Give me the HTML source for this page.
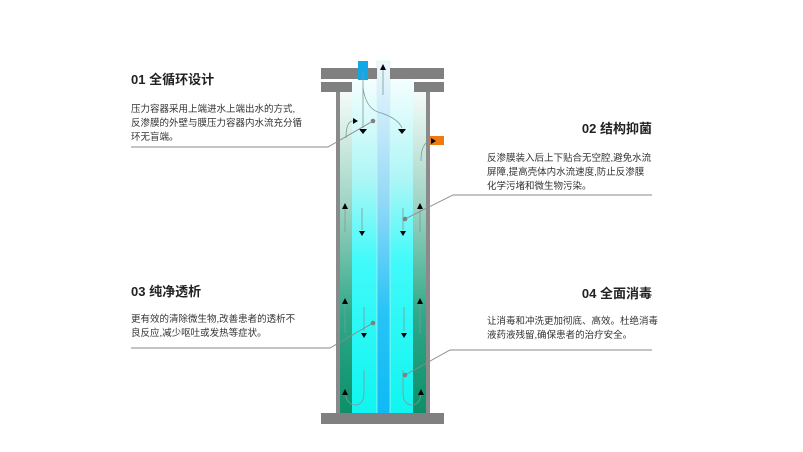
<!DOCTYPE html>
<html><head><meta charset="utf-8"><style>
html,body{margin:0;padding:0;background:#fff;}
svg{display:block;}
text{font-family:"Liberation Sans","Noto Sans CJK SC",sans-serif;}
.t{font-size:13px;font-weight:bold;fill:#222;}
.b{font-size:9.5px;fill:#333;}
</style></head><body>
<svg width="803" height="452" viewBox="0 0 803 452" xmlns="http://www.w3.org/2000/svg">
<defs>
<linearGradient id="ann" x1="0" y1="0" x2="0" y2="1">
<stop offset="0" stop-color="#f4fbf8"/><stop offset="0.35" stop-color="#9fd4c4"/><stop offset="0.7" stop-color="#2fa888"/><stop offset="1" stop-color="#0c8f6a"/></linearGradient>
<linearGradient id="inn" x1="0" y1="0" x2="0" y2="1">
<stop offset="0" stop-color="#f6fefe"/><stop offset="0.3" stop-color="#aef6f6"/><stop offset="0.55" stop-color="#40fafa"/><stop offset="1" stop-color="#10f5f0"/></linearGradient>
<linearGradient id="tub" x1="0" y1="0" x2="0" y2="1">
<stop offset="0" stop-color="#eef8fc"/><stop offset="0.4" stop-color="#90d8f6"/><stop offset="0.7" stop-color="#28c4f6"/><stop offset="1" stop-color="#10b8f4"/></linearGradient>
</defs>
<!-- vessel -->
<rect x="339" y="92" width="88" height="321" fill="url(#ann)"/>
<rect x="352" y="78" width="61" height="335" fill="url(#inn)"/>
<rect x="377" y="61" width="13" height="357" fill="url(#tub)" stroke="#d8eef6" stroke-width="0.6"/>
<rect x="336" y="92" width="4" height="321" fill="#8a8a8a"/>
<rect x="426" y="92" width="4" height="321" fill="#8a8a8a"/>
<rect x="321" y="68" width="56" height="11" fill="#808080"/>
<rect x="390" y="68" width="54" height="11" fill="#808080"/>
<rect x="321" y="82" width="31" height="10" fill="#808080"/>
<rect x="414" y="82" width="30" height="10" fill="#808080"/>
<rect x="321" y="413" width="123" height="11" fill="#808080"/>
<rect x="358" y="61" width="10" height="19" fill="#12a8e8"/>
<rect x="430" y="136" width="14" height="9" fill="#f07a10"/>
<!-- flow lines -->
<g stroke="#7a9a9a" stroke-width="0.8" fill="none">
<line x1="363" y1="72" x2="363" y2="128"/>
<line x1="383" y1="70" x2="383" y2="95"/>
<path d="M363 88 Q366 108 378 112 Q398 118 402 128"/>
<path d="M346 138 Q346 121 353 121"/>
<path d="M421 161 Q421 141 432 141"/>
<line x1="345" y1="208" x2="345" y2="232"/><line x1="420" y1="208" x2="420" y2="232"/>
<line x1="362" y1="208" x2="362" y2="230"/><line x1="403" y1="208" x2="403" y2="230"/>
<line x1="345" y1="303" x2="345" y2="333"/><line x1="420" y1="303" x2="420" y2="333"/>
<line x1="364" y1="307" x2="364" y2="331"/><line x1="404" y1="307" x2="404" y2="331"/>
<path d="M364 370 L364 392 Q364 405 355 405 Q346 404 345 392"/>
<path d="M403 370 L403 392 Q403 405 412 405 Q421 404 421 392"/>
</g>
<g fill="#000">
<polygon points="380,70 383,64 386,70"/>
<polygon points="359,129 367,129 363,134"/><polygon points="398,129 406,129 402,134"/>
<polygon points="353,118 358,121 353,124"/><polygon points="431,138 436,141 431,144"/>
<polygon points="342,209 345,203 348,209"/><polygon points="417,209 420,203 423,209"/>
<polygon points="359,231 365,231 362,236"/><polygon points="400,231 406,231 403,236"/>
<polygon points="342,304 345,298 348,304"/><polygon points="417,304 420,298 423,304"/>
<polygon points="361,333 367,333 364,338"/><polygon points="401,333 407,333 404,338"/>
<polygon points="342,395 345,389 348,395"/><polygon points="418,395 421,389 424,395"/>
</g>
<!-- leaders -->
<g stroke="#8a8a8a" stroke-width="0.9" fill="none">
<polyline points="131,147 328,147 373,121"/>
<polyline points="652,195 453,195 405,219"/>
<polyline points="131,348 330,348 373,323"/>
<polyline points="652,350 450,350 405,375"/>
</g>
<g fill="#808080"><circle cx="373" cy="121" r="2.3"/><circle cx="405" cy="219" r="2.3"/><circle cx="373" cy="323" r="2.3"/><circle cx="405" cy="375" r="2.3"/></g>
<!-- texts -->
<text class="t" x="131" y="84">01 全循环设计</text>
<text class="b" x="131" y="112">压力容器采用上端进水上端出水的方式,</text>
<text class="b" x="131" y="126">反渗膜的外壁与膜压力容器内水流充分循</text>
<text class="b" x="131" y="140">环无盲端。</text>
<text class="t" x="652" y="133" text-anchor="end">02 结构抑菌</text>
<text class="b" x="487" y="161">反渗膜装入后上下贴合无空腔,避免水流</text>
<text class="b" x="487" y="175">屏障,提高壳体内水流速度,防止反渗膜</text>
<text class="b" x="487" y="189">化学污堵和微生物污染。</text>
<text class="t" x="131" y="296">03 纯净透析</text>
<text class="b" x="131" y="322">更有效的清除微生物,改善患者的透析不</text>
<text class="b" x="131" y="336">良反应,减少呕吐或发热等症状。</text>
<text class="t" x="652" y="298" text-anchor="end">04 全面消毒</text>
<text class="b" x="487" y="324">让消毒和冲洗更加彻底、高效。杜绝消毒</text>
<text class="b" x="487" y="338">液药液残留,确保患者的治疗安全。</text>
</svg>
</body></html>
